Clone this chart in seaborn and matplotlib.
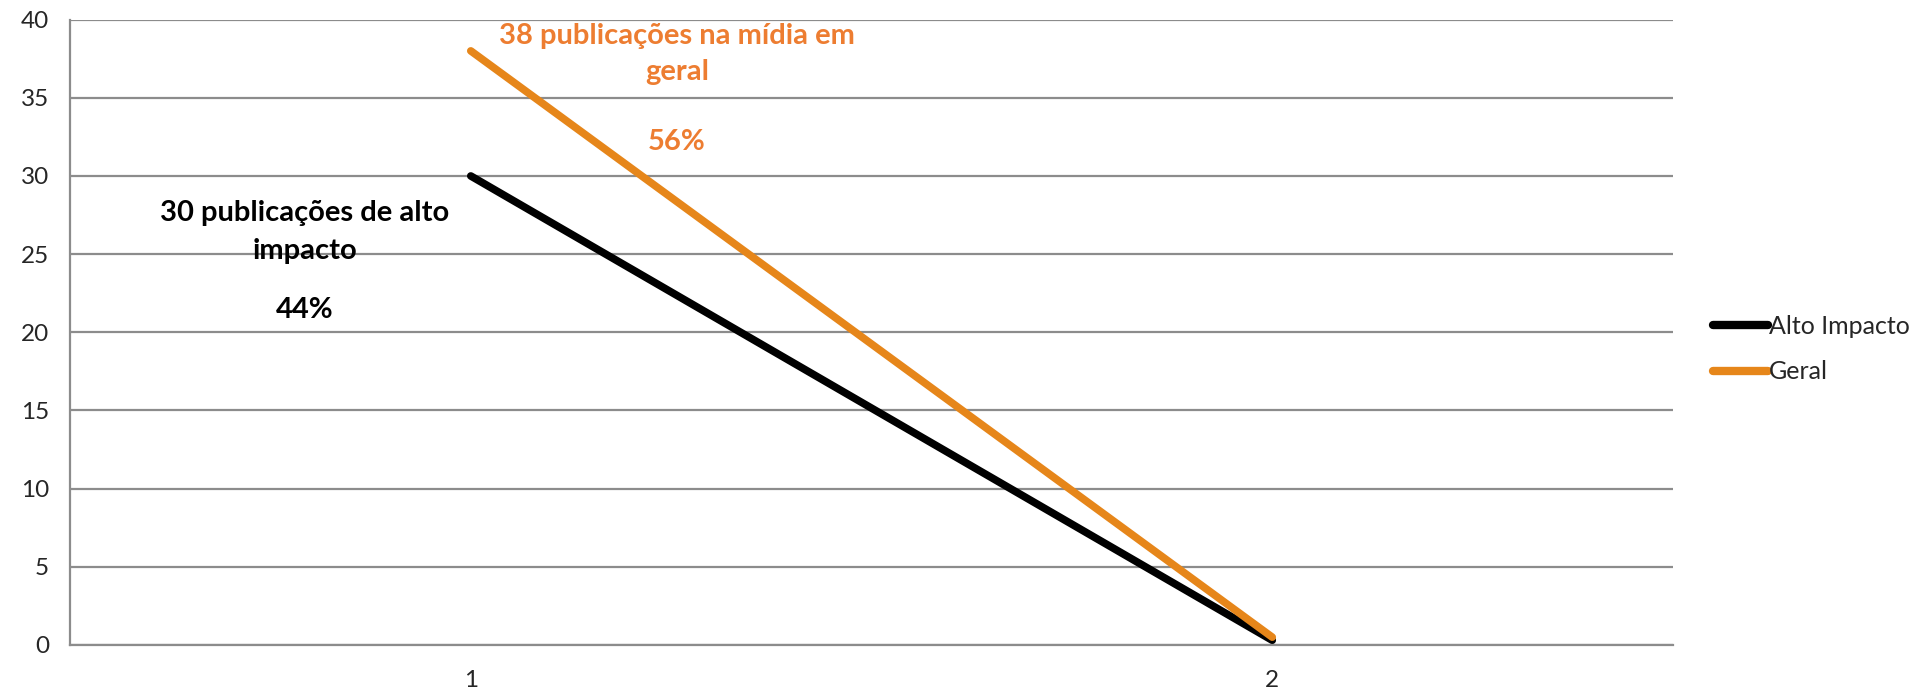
import pandas as pd
import matplotlib
matplotlib.use('Agg')
import matplotlib.pyplot as plt
import seaborn as sns

# dados
categorias = [1, 2]
alto_impacto = [30, 0.3]
geral = [38, 0.5]
series_nomes = ['Alto Impacto', 'Geral']
cores = ['#000000', '#E6861A']
yticks = [0, 5, 10, 15, 20, 25, 30, 35, 40]

df = pd.DataFrame({
    'x': categorias * 2,
    'valor': alto_impacto + geral,
    'serie': [series_nomes[0]] * 2 + [series_nomes[1]] * 2,
})

sns.set_style('white')
plt.rcParams['font.family'] = ['Lato', 'DejaVu Sans']

fig = plt.figure(figsize=(19.19, 6.91), dpi=100)
ax = fig.add_axes([0.0365, 0.0666, 0.8353, 0.905])

sns.lineplot(data=df, x='x', y='valor', hue='serie', palette=cores,
             linewidth=5.5, ax=ax, solid_capstyle='round')

grid_cor = '#8C8C8C'
ax.set_xlim(0.5, 2.5)
ax.set_ylim(0, 40)
ax.set_yticks(yticks)
ax.set_yticklabels([str(v) for v in yticks], fontsize=17.5)
ax.yaxis.grid(True, color=grid_cor, linewidth=1.6)
ax.set_axisbelow(True)

# eixo x de categoria: marcas entre categorias, rótulos no centro
ax.set_xticks([0.5, 1.5, 2.5])
ax.set_xticklabels(['', '', ''])
ax.set_xticks(categorias, minor=True)
ax.set_xticklabels([str(c) for c in categorias], minor=True, fontsize=17.5)
ax.tick_params(axis='x', which='major', direction='out', length=8, width=1.6, color=grid_cor)
ax.tick_params(axis='x', which='minor', length=0, pad=18)
ax.tick_params(axis='y', direction='out', length=8, width=1.6, color=grid_cor, pad=7)

for s in ['top', 'right']:
    ax.spines[s].set_visible(False)
for s in ['left', 'bottom']:
    ax.spines[s].set_color(grid_cor)
    ax.spines[s].set_linewidth(1.6)
ax.set_xlabel('')
ax.set_ylabel('')

# anotações
ax.text(0.793, 26.4, '30 publicações de alto\nimpacto', ha='center', va='center',
        fontsize=21, fontweight='bold', color='black', linespacing=1.55)
ax.text(0.793, 21.4, '44%', ha='center', va='center',
        fontsize=21, fontweight='bold', color='black')
ax.text(1.257, 37.8, '38 publicações na mídia em\ngeral', ha='center', va='center',
        fontsize=21, fontweight='bold', color='#ED7D31', linespacing=1.45, clip_on=False)
ax.text(1.257, 32.2, '56%', ha='center', va='center',
        fontsize=21, fontweight='bold', color='#ED7D31')

leg = ax.legend(loc='center left', bbox_to_anchor=(1.025, 0.473), frameon=False,
                fontsize=18, handlelength=2.2, handletextpad=0.05, labelspacing=0.9,
                borderpad=0, borderaxespad=0)
for l in leg.get_lines():
    l.set_linewidth(6)
    l.set_solid_capstyle('round')

plt.savefig('out.png', dpi=100)
